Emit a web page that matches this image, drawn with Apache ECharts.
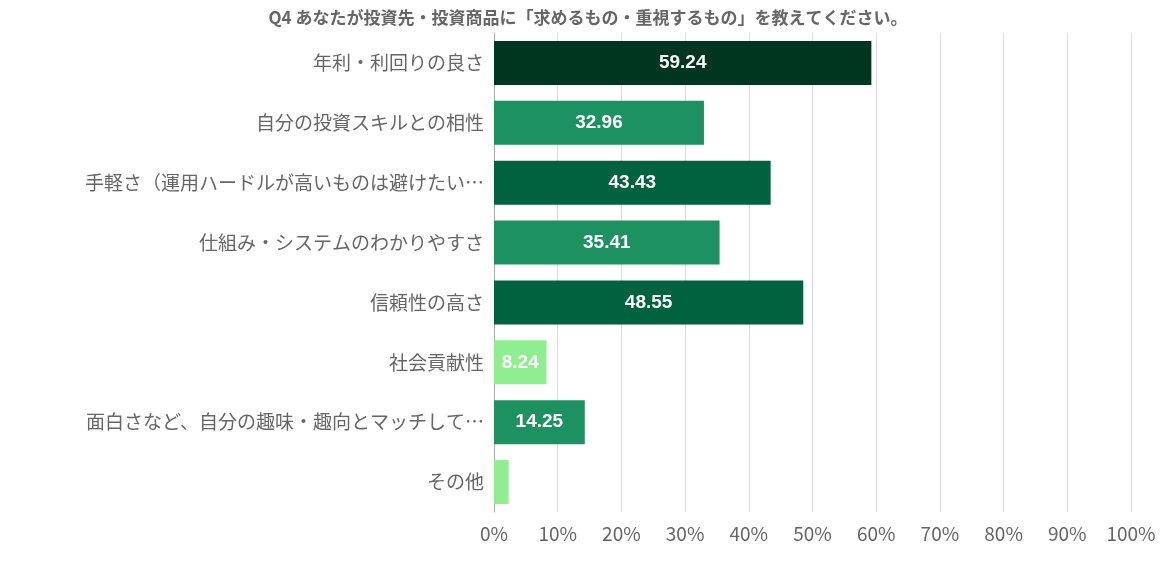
<!DOCTYPE html>
<html><head><meta charset="utf-8">
<script src="https://cdn.jsdelivr.net/npm/echarts@6/dist/echarts.min.js"></script>
<style>html,body{margin:0;padding:0;background:#fff}#c{width:1164px;height:562px}</style>
</head><body><div id="c"></div>
<script>
const categories = ["年利・利回りの良さ","自分の投資スキルとの相性","手軽さ（運用ハードルが高いものは避けたい…","仕組み・システムのわかりやすさ","信頼性の高さ","社会貢献性","面白さなど、自分の趣味・趣向とマッチして…","その他"];
const values = [59.24,32.96,43.43,35.41,48.55,8.24,14.25,2.3];
const showLabel = [true,true,true,true,true,true,true,false];
const colors = ["#00351f","#1d9160","#00623f","#1d9160","#00623f","#90ee90","#1d9160","#90ee90"];
const xTicks = [0,10,20,30,40,50,60,70,80,90,100];
const chart = echarts.init(document.getElementById('c'));
chart.setOption({
  animation:false,
  title:{text:"Q4 あなたが投資先・投資商品に「求めるもの・重視するもの」を教えてください。",left:583,textAlign:'center',top:4,
    textStyle:{fontSize:17,fontWeight:'bold',color:'#666',fontFamily:'Noto Sans CJK JP'}},
  grid:{left:494,right:33,top:33,bottom:50},
  xAxis:{type:'value',min:0,max:100,interval:10,
    axisLabel:{formatter:v=>v+'%',fontSize:19,color:'#666',margin:12,fontFamily:'Noto Sans CJK JP'},
    splitLine:{lineStyle:{color:'#ddd'}},axisLine:{show:false},axisTick:{show:false}},
  yAxis:{type:'category',inverse:true,data:categories,
    axisLabel:{fontSize:19,color:'#666',margin:10,fontFamily:'Noto Sans CJK JP'},
    axisLine:{lineStyle:{color:'#aaa'}},axisTick:{show:false}},
  series:[{type:'bar',barWidth:44,
    data:values.map((v,i)=>({value:v,itemStyle:{color:colors[i]},label:{show:showLabel[i]}})),
    label:{position:'inside',color:'#fff',fontSize:19,fontWeight:'bold',fontFamily:'Liberation Sans',formatter:p=>p.value.toFixed(2)}}]
});
</script></body></html>
